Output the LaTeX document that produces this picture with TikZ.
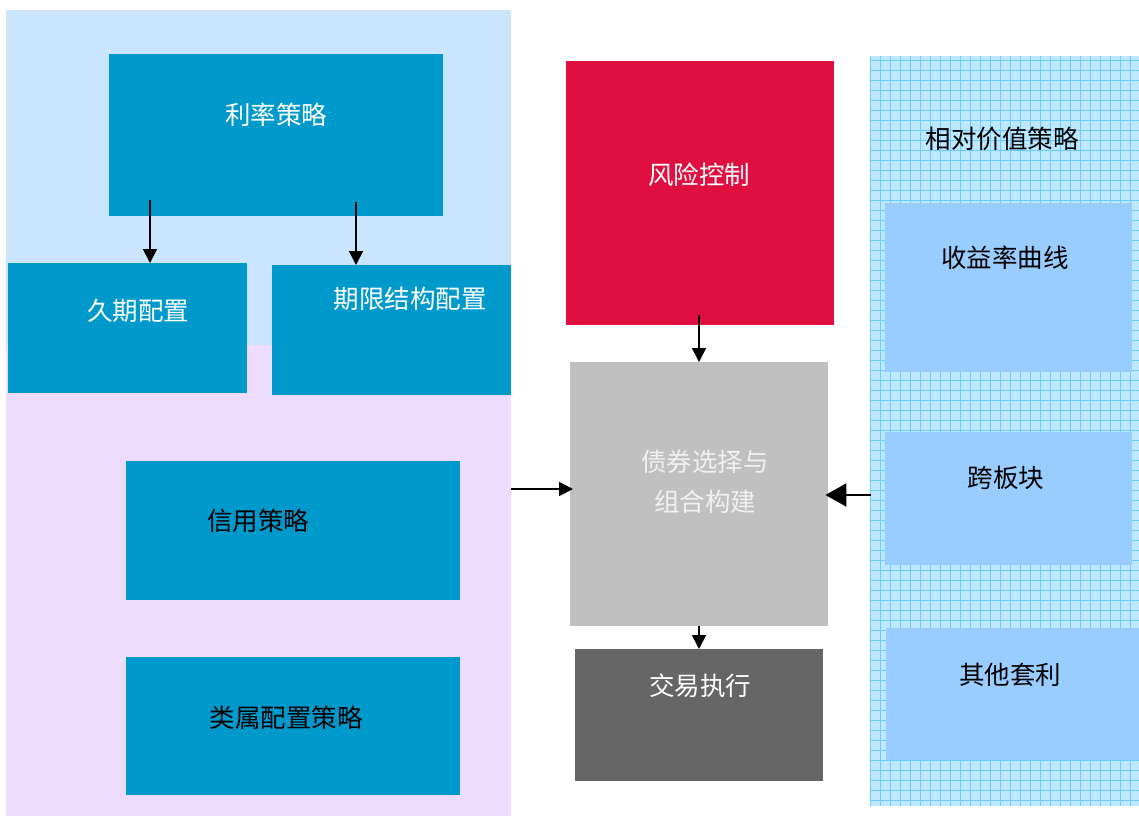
\documentclass[tikz,border=0pt]{standalone}
\usepackage{fontspec}
\setmainfont{Noto Sans CJK SC}
\usetikzlibrary{arrows.meta}
\definecolor{stratblue}{HTML}{0099CC}
\definecolor{topbg}{HTML}{CCE5FF}
\definecolor{lowbg}{HTML}{EEDCFF}
\definecolor{riskred}{HTML}{DF1040}
\definecolor{selgray}{HTML}{C0C0C0}
\definecolor{tradegray}{HTML}{666666}
\definecolor{gridbg}{HTML}{BDE8FF}
\definecolor{gridln}{HTML}{6CCBFF}
\definecolor{rvblue}{HTML}{99CCFF}

\begin{document}
\begin{tikzpicture}[x=1pt,y=-1pt,
    blk/.style={anchor=north west, inner sep=0pt},
    lbl/.style={font=\fontsize{25.5}{30}\selectfont, inner sep=0pt},
    arr/.style={-{Triangle[length=14pt,width=14pt]}, line width=1.6pt},
    bigarr/.style={-{Triangle[length=21pt,width=23pt]}, line width=2pt}
  ]
  \useasboundingbox (0,0) rectangle (1139,817);

  % left panel
  \node[blk, fill=lowbg, minimum width=505pt, minimum height=806pt] (lp) at (6,10) {};
  \fill[topbg] (lp.north west) rectangle (511,345);

  % right panel with grid
  \node[blk, fill=gridbg, minimum width=269pt, minimum height=750pt] (rv) at (870,56) {};
  \draw[gridln, line width=0.9pt, step=10pt] (870,56) grid (1139,806);

  % boxes
  \foreach \n/\x/\y/\w/\h/\c in {rate/109/54/334/162/stratblue,
      dur/8/263/239/130/stratblue, term/272/265/239/130/stratblue,
      cred/126/461/334/139/stratblue, sect/126/657/334/138/stratblue,
      risk/566/61/268/264/riskred, sel/570/362/258/264/selgray,
      trade/575/649/248/132/tradegray,
      curve/885/203/247/169/rvblue, cross/885/432/247/133/rvblue,
      arb/886/628/253/132/rvblue} {
    \node[blk, fill=\c, minimum width=\w pt, minimum height=\h pt] (\n) at (\x,\y) {};
  }

  % labels
  \node[lbl, white] (trate) at (276,115) {利率策略};
  \node[lbl, white] (tdur) at (138,311) {久期配置};
  \node[lbl, white] (tterm) at (410,299) {期限结构配置};
  \node[lbl] (tcred) at (258,521) {信用策略};
  \node[lbl] (tsect) at (286,718) {类属配置策略};
  \node[lbl, white] (trisk) at (699,175) {风险控制};
  \node[lbl, white!94!black, align=center] (tsel) at (705,482) {债券选择与\\[10pt]组合构建};
  \node[lbl, white] (ttrade) at (700,686) {交易执行};
  \node[lbl] (trv) at (1002,139) {相对价值策略};
  \node[lbl] (tcurve) at (1005,258) {收益率曲线};
  \node[lbl] (tcross) at (1006,478) {跨板块};
  \node[lbl] (tarb) at (1010,675) {其他套利};

  % arrows
  \coordinate (r1) at (150,200);
  \coordinate (r2) at (356,202);
  \draw[arr] (r1) -- (r1 |- dur.north);
  \draw[arr] (r2) -- (r2 |- term.north);
  \coordinate (k1) at (699,315);
  \draw[arr] (k1) -- (k1 |- sel.north);
  \coordinate (s1) at (699,626);
  \draw[arr] (s1) -- (s1 |- trade.north);
  \coordinate (l1) at (511,489);
  \draw[arr] (l1) -- ([xshift=3pt]l1 -| sel.west);
  \coordinate (g1) at (871,495);
  \draw[bigarr] (g1) -- ([xshift=-3pt]g1 -| sel.east);
\end{tikzpicture}
\end{document}
